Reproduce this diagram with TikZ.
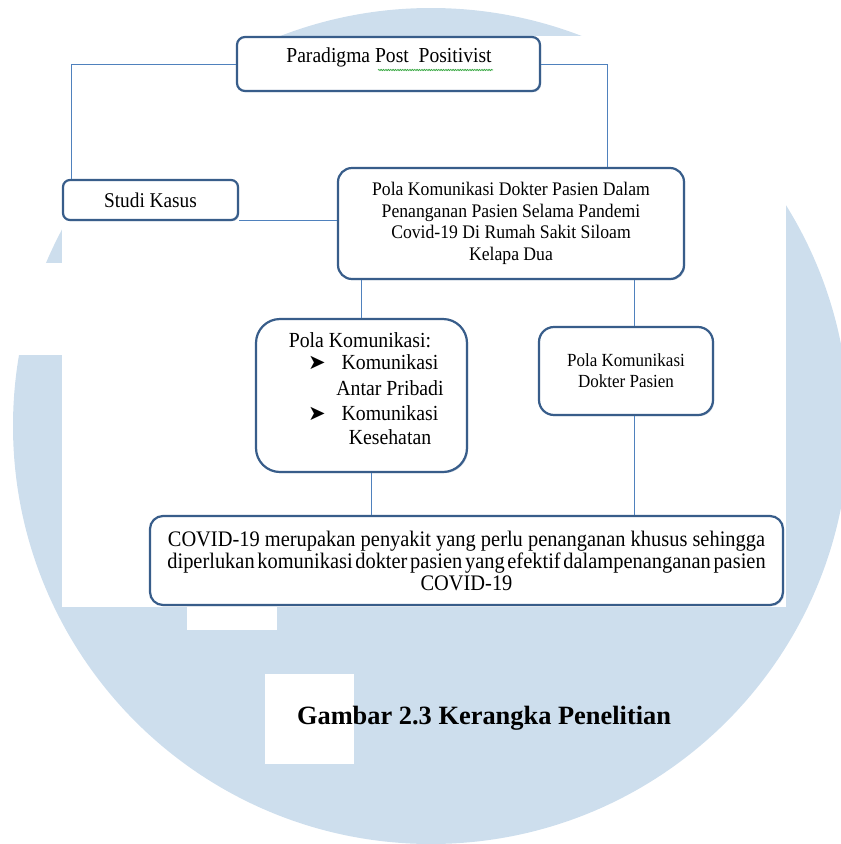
\documentclass[tikz,border=0pt]{standalone}
\usepackage{fontspec}
\setmainfont{Liberation Serif}
\newfontfamily\dfont[FakeStretch=0.92]{Liberation Serif}
\newfontfamily\symfont{DejaVu Sans}
\usetikzlibrary{shadows,decorations.pathmorphing}
\definecolor{bgblue}{RGB}{205,222,237}
\definecolor{boxline}{RGB}{56,93,138}
\definecolor{connline}{RGB}{79,129,189}
\definecolor{spellgreen}{RGB}{60,170,70}
\begin{document}
\begin{tikzpicture}[x=1pt,y=-1pt,
  box/.style={draw=boxline, line width=2.2pt, fill=white, inner sep=0pt, align=center,
    drop shadow={shadow xshift=1.2pt, shadow yshift=-1.2pt, fill=boxline, opacity=0.25}},
  conn/.style={draw=connline, line width=1pt},
  txt/.style={inner sep=0pt, anchor=mid},
  bullet/.style={inner sep=0pt, anchor=mid, font=\symfont\fontsize{21}{24}\selectfont},
]
\useasboundingbox (0,0) rectangle (841,844);
\clip (0,0) rectangle (841,844);
% watermark background
\fill[bgblue] (431,426) circle[radius=418];
\fill[white] (62,36) rectangle (786,607);
\fill[white] (0,263) rectangle (62,355);
\fill[white] (187,607) rectangle (277,630);
\fill[white] (265,674) rectangle (354,764);

% boxes
\node[box, rounded corners=8pt, minimum width=303pt, minimum height=54pt] (par) at (388.5,64) {};
\node[txt, font=\dfont\fontsize{21.3}{24}\selectfont] (part) at (389,60) {Paradigma Post~~Positivist};
\draw[spellgreen, line width=0.8pt, decorate, decoration={snake, amplitude=0.6pt, segment length=2.4pt}] (378,70) -- (493,70);

\node[box, rounded corners=7pt, minimum width=175pt, minimum height=40pt,
  font=\dfont\fontsize{21}{24}\selectfont] (sk) at (150.5,200) {Studi Kasus};

\node[box, rounded corners=14pt, minimum width=346pt, minimum height=111pt,
  font=\dfont\fontsize{19.2}{21.5}\selectfont] (main) at (511,223.5)
  {Pola Komunikasi Dokter Pasien Dalam\\Penanganan Pasien Selama Pandemi\\Covid-19 Di Rumah Sakit Siloam\\Kelapa Dua};

\node[box, rounded corners=24pt, minimum width=211pt, minimum height=153pt] (pk) at (361.5,395.5) {};
\node[txt, font=\dfont\fontsize{21.5}{24}\selectfont] (pkt0) at (360,345) {Pola Komunikasi:};
\node[bullet] (pkb1) at (317,367) {➤};
\node[txt, font=\dfont\fontsize{21.5}{24}\selectfont] (pkt1) at (390,367) {Komunikasi};
\node[txt, font=\dfont\fontsize{21.5}{24}\selectfont] (pkt2) at (390,393) {Antar Pribadi};
\node[bullet] (pkb2) at (317,418) {➤};
\node[txt, font=\dfont\fontsize{21.5}{24}\selectfont] (pkt3) at (390,418) {Komunikasi};
\node[txt, font=\dfont\fontsize{21.5}{24}\selectfont] (pkt4) at (390,442) {Kesehatan};

\node[box, rounded corners=15pt, minimum width=174pt, minimum height=88pt,
  font=\dfont\fontsize{18.5}{21}\selectfont] (pkdp) at (626,371) {Pola Komunikasi\\Dokter Pasien};

\node[box, rounded corners=13pt, minimum width=633pt, minimum height=89pt,
  font=\dfont\fontsize{22.2}{22}\selectfont] (cov) at (466.5,560.5)
  {COVID-19 merupakan penyakit yang perlu penanganan khusus sehingga\\{\spaceskip=.12em diperlukan komunikasi dokter pasien yang efektif dalampenanganan pasien}\\COVID-19};

% connectors
\coordinate (skl) at ([xshift=10pt]sk.north west);
\coordinate (mainr) at ([xshift=-78pt]main.north east);
\coordinate (skb) at ([yshift=1pt]sk.south east);
\coordinate (pkdpt) at ([xshift=8pt]pkdp.north);
\coordinate (pkdpb) at ([xshift=8pt]pkdp.south);
\coordinate (pkb) at ([xshift=10pt]pk.south);
\draw[conn] (par.west) -| (skl);
\draw[conn] (par.east) -| (mainr);
\draw[conn] (skb) -- (skb -| main.west);
\draw[conn] (pk.north) -- (pk.north |- main.south);
\draw[conn] (pkdpt) -- (pkdpt |- main.south);
\draw[conn] (pkb) -- (pkb |- cov.north);
\draw[conn] (pkdpb) -- (pkdpb |- cov.north);

% caption
\node[txt, font=\bfseries\fontsize{26.4}{30}\selectfont] (cap) at (484,722) {Gambar 2.3 Kerangka Penelitian};
\end{tikzpicture}
\end{document}
